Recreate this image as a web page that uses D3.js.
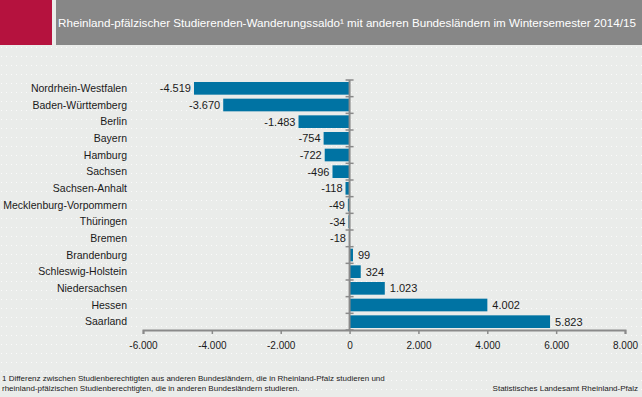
<!DOCTYPE html>
<head>
    <script src="https://d3js.org/d3.v7.min.js"></script>
    <style>
        body {margin: 0; background: #eaecea;}
        svg text {font-family: Arial, "Liberation Sans", sans-serif;}
    </style>
</head>
<body>
</body>
<script>
  const states = ["Nordrhein-Westfalen", "Baden-Württemberg", "Berlin", "Bayern", "Hamburg", "Sachsen",
                  "Sachsen-Anhalt", "Mecklenburg-Vorpommern", "Thüringen", "Bremen", "Brandenburg",
                  "Schleswig-Holstein", "Niedersachsen", "Hessen", "Saarland"],
        saldo = [-4519, -3670, -1483, -754, -722, -496, -118, -49, -34, -18, 99, 324, 1023, 4002, 5823],
        xTicks = [-6000, -4000, -2000, 0, 2000, 4000, 6000, 8000];

  const title = "Rheinland-pfälzischer Studierenden-Wanderungssaldo\u00b9 mit anderen Bundesländern im Wintersemester 2014/15",
        note1 = "1 Differenz zwischen Studienberechtigten aus anderen Bundesländern, die in Rheinland-Pfalz studieren und",
        note2 = "rheinland-pfälzischen Studienberechtigten, die in anderen Bundesländern studieren.",
        source = "Statistisches Landesamt Rheinland-Pfalz";

  const width = 642,
        height = 397;

  const fmt = d3.formatLocale({decimal: ",", thousands: ".", grouping: [3], currency: ["", "€"], minus: "-"}).format(",d");

  const svg = d3.select("body").append("svg")
          .attr("width", width)
          .attr("height", height)
          .style("display", "block");

  // dotted background
  const pat = svg.append("defs").append("pattern")
          .attr("id", "dots")
          .attr("width", 5).attr("height", 9)
          .attr("patternUnits", "userSpaceOnUse");
  pat.append("rect").attr("width", 5).attr("height", 9).attr("fill", "#eaecea");
  pat.append("rect").attr("x", 1).attr("y", 2).attr("width", 1).attr("height", 1).attr("fill", "#ffffff").attr("opacity", 0.8);

  svg.append("rect").attr("width", width).attr("height", height).attr("fill", "url(#dots)");

  // header
  svg.append("rect").attr("width", 52).attr("height", 45).attr("fill", "#b5123e");
  svg.append("rect").attr("x", 56).attr("width", width - 56).attr("height", 45).attr("fill", "#878787");
  svg.append("text")
      .attr("x", 58).attr("y", 27)
      .attr("fill", "#ffffff")
      .attr("font-size", 11.6)
      .attr("textLength", 578)
      .attr("lengthAdjust", "spacingAndGlyphs")
      .text(title);

  const x = d3.scaleLinear()
          .domain([-6000, 8000])
          .range([143, 625]);

  const y = d3.scaleBand()
          .domain(states)
          .range([80, 330])
          .paddingInner(0.24)
          .paddingOuter(0.12);

  // bars
  svg.append("g").selectAll("rect")
      .data(saldo)
    .enter().append("rect")
      .attr("x", d => x(Math.min(0, d)))
      .attr("y", (d, i) => y(states[i]))
      .attr("width", d => Math.abs(x(d) - x(0)))
      .attr("height", y.bandwidth())
      .attr("fill", "#0073a3");

  // value labels
  svg.append("g").selectAll("text")
      .data(saldo)
    .enter().append("text")
      .attr("x", d => d < 0 ? x(d) - 3 : x(d) + 5)
      .attr("y", (d, i) => y(states[i]) + y.bandwidth() / 2)
      .attr("dy", "0.36em")
      .attr("text-anchor", d => d < 0 ? "end" : "start")
      .attr("font-size", 11)
      .attr("fill", "#1a1a1a")
      .text(d => fmt(d));

  // category labels
  svg.append("g").selectAll("text")
      .data(states)
    .enter().append("text")
      .attr("x", 127)
      .attr("y", d => y(d) + y.bandwidth() / 2)
      .attr("dy", "0.36em")
      .attr("text-anchor", "end")
      .attr("font-size", 10.5)
      .attr("fill", "#1a1a1a")
      .text(d => d);

  // x axis
  const xAxis = svg.append("g")
      .attr("transform", `translate(0, 330)`)
      .call(d3.axisBottom(x).tickValues(xTicks).tickSize(4).tickFormat(fmt));
  xAxis.select(".domain").attr("stroke", "#8a8a8a").attr("stroke-width", 2);
  xAxis.selectAll(".tick line").attr("stroke", "#8a8a8a").attr("stroke-width", 1.5);
  xAxis.selectAll(".tick text").attr("font-size", 10).attr("fill", "#1a1a1a").attr("dy", "1.2em");

  // zero axis with category ticks
  const bounds = d3.range(states.length + 1).map(i => 80 + (330 - 80) / states.length * i);
  svg.append("line")
      .attr("x1", x(0)).attr("x2", x(0))
      .attr("y1", 80).attr("y2", 330)
      .attr("stroke", "#8a8a8a").attr("stroke-width", 2);
  svg.append("g").selectAll("line")
      .data(bounds)
    .enter().append("line")
      .attr("x1", x(0) - 4).attr("x2", x(0) + 4)
      .attr("y1", d => d).attr("y2", d => d)
      .attr("stroke", "#8a8a8a").attr("stroke-width", 1.5);

  // footnote and source
  svg.append("text").attr("x", 2).attr("y", 381).attr("font-size", 8).attr("fill", "#1a1a1a").text(note1);
  svg.append("text").attr("x", 2).attr("y", 391).attr("font-size", 8).attr("fill", "#1a1a1a").text(note2);
  svg.append("text").attr("x", 638).attr("y", 391).attr("text-anchor", "end")
      .attr("font-size", 8).attr("fill", "#1a1a1a").text(source);
</script>
